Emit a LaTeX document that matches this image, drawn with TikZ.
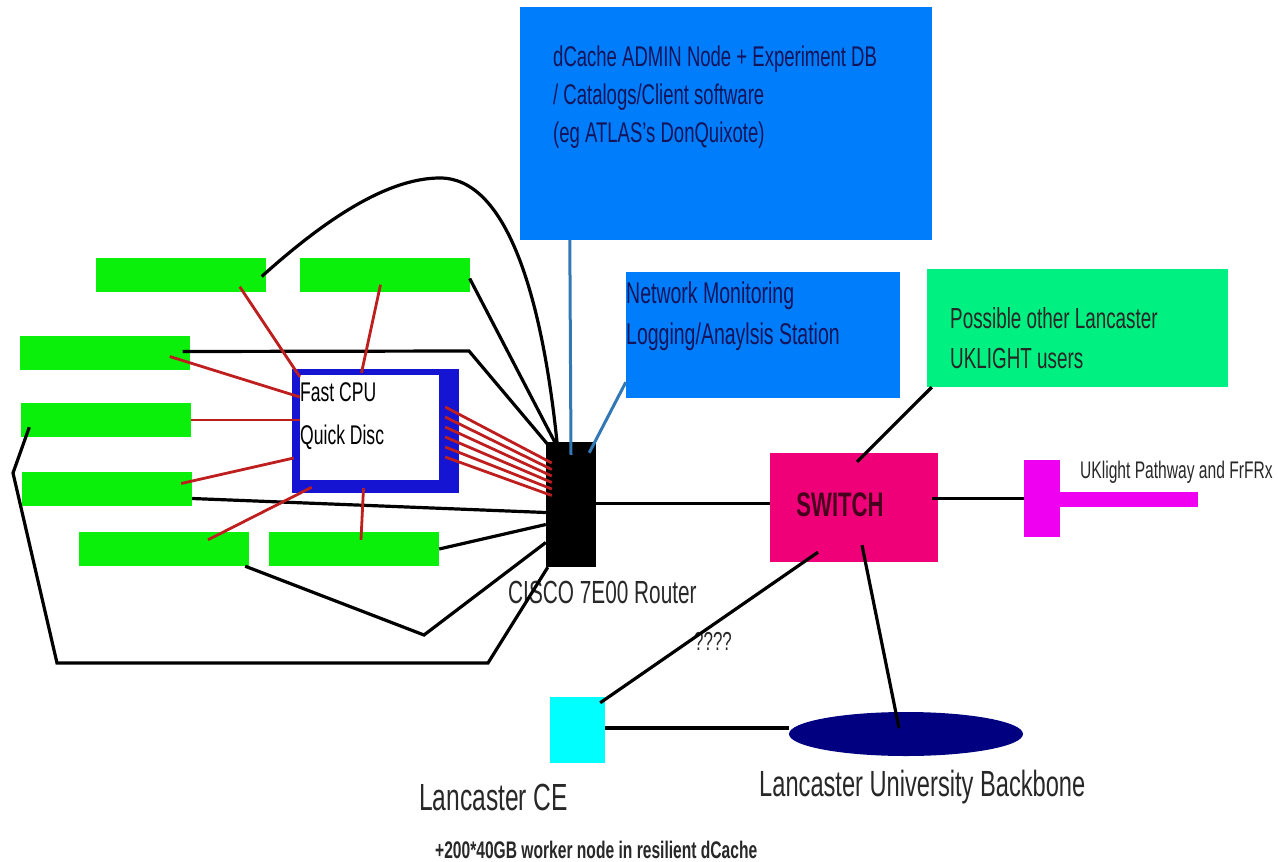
\documentclass[tikz,border=0pt]{standalone}
\usepackage{fontspec}
\setmainfont{Liberation Sans}[FakeStretch=0.65]
\usetikzlibrary{calc,shapes.geometric}

\definecolor{wgreen}{RGB}{10,240,10}
\definecolor{adminblue}{RGB}{0,125,250}
\definecolor{cpublue}{RGB}{20,20,210}
\definecolor{lgreen}{RGB}{0,240,130}
\definecolor{swpink}{RGB}{240,0,120}
\definecolor{tmagenta}{RGB}{240,0,240}
\definecolor{cecyan}{RGB}{0,255,255}
\definecolor{bbnavy}{RGB}{0,0,128}
\definecolor{redline}{RGB}{190,30,30}
\definecolor{blueline}{RGB}{50,120,180}
\definecolor{navytext}{RGB}{20,20,90}
\definecolor{greytext}{RGB}{40,40,40}

\begin{document}
\begin{tikzpicture}[x=1pt,y=-1pt,
  wn/.style={fill=wgreen,minimum width=170pt,minimum height=34pt,inner sep=0pt},
  panel/.style={inner sep=0pt},
  txt/.style={inner sep=0pt,anchor=west,align=left},
  wire/.style={line width=3.2pt,black},
  rline/.style={line width=2.8pt,redline},
  bline/.style={line width=3pt,blueline}
]
\useasboundingbox[fill=white] (0,0) rectangle (1278,862);

% worker nodes
\node[wn] (w1) at (180.5,274.5) {};
\node[wn] (w2) at (384.5,274.5) {};
\node[wn] (w3) at (104.5,352.5) {};
\node[wn] (w4) at (105.5,420) {};
\node[wn] (w5) at (107,488.5) {};
\node[wn] (w6) at (164,549) {};
\node[wn] (w7) at (354,549) {};

% fast cpu box
\node[panel,fill=cpublue,minimum width=167pt,minimum height=124pt] (cpu) at (375.5,431) {};
\fill[white] ($(cpu.north west)+(8,6)$) rectangle ($(cpu.south east)+(-20,-13)$);
\node[txt,font=\fontsize{27}{43}\selectfont] (cpu-txt) at (300,416.5) {Fast CPU\\Quick Disc};

% router
\node[panel,fill=black,minimum width=50pt,minimum height=125pt] (router) at (571,504.5) {};
\node[txt,text=greytext,font=\fontsize{32}{38}\selectfont] (router-txt) at (508,592) {CISCO 7E00 Router};

% servers
\node[panel,fill=adminblue,minimum width=412pt,minimum height=233pt] (admin) at (726,123.5) {};
\node[txt,text=navytext,font=\fontsize{28.5}{38}\selectfont] (admin-txt) at (553,97)
  {dCache ADMIN Node + Experiment DB\\/ Catalogs/Client software\\(eg ATLAS's DonQuixote)};
\node[panel,fill=adminblue,minimum width=274pt,minimum height=126pt] (netmon) at (763,335) {};
\node[txt,text=navytext,font=\fontsize{30}{41}\selectfont] (netmon-txt) at (626,316.5)
  {Network Monitoring\\Logging/Anaylsis Station};
\node[panel,fill=lgreen,minimum width=301pt,minimum height=118pt] (others) at (1077.5,328) {};
\node[txt,text=black!85,font=\fontsize{29}{40}\selectfont] (others-txt) at (950,338)
  {Possible other Lancaster\\UKLIGHT users};

% switch and uklight
\node[panel,fill=swpink,minimum width=168pt,minimum height=109pt] (switch) at (854,507.5) {};
\node[text={rgb,255:red,70;green,0;blue,30},inner sep=0pt,font=\fontsize{34}{40}\selectfont\bfseries] (switch-txt) at (840,505) {SWITCH};
\node[panel,fill=tmagenta,minimum width=36pt,minimum height=77pt] (tbar) at (1042,498.5) {};
\node[panel,fill=tmagenta,minimum width=138pt,minimum height=15pt] (tarm) at (1129,499.5) {};
\node[txt,text=greytext,font=\fontsize{24}{28}\selectfont] (tarm-txt) at (1080,472) {UKlight Pathway and FrFRx};

% lancaster
\node[panel,fill=cecyan,minimum width=55pt,minimum height=66pt] (ce) at (577.5,730) {};
\node[txt,text=greytext,font=\fontsize{37.8}{44}\selectfont] (ce-txt) at (419,797) {Lancaster CE};
\node[ellipse,fill=bbnavy,inner sep=0pt,minimum width=234pt,minimum height=44pt] (bb) at (906,734) {};
\node[txt,text=greytext,font=\fontsize{36.4}{44}\selectfont] (bb-txt) at (759,787) {Lancaster University Backbone};
\node[txt,text=greytext,font=\fontsize{24}{28}\selectfont\bfseries] (note) at (435,850) {+200*40GB worker node in resilient dCache};
\node[text=greytext,inner sep=0pt,font=\fontsize{26}{30}\selectfont] (qq) at (713,641) {????};

% black cabling
\coordinate (v1) at (424,635);
\coordinate (loop-a) at (13,473);
\coordinate (loop-b) at (57,663);
\coordinate (loop-c) at (488,663);
\draw[wire] ($(w1.east)+(-4,2)$) .. controls (330,215) and (390,178) .. (440,178)
  .. controls (505,178) and (542,290) .. ($(router.north west)+(12,8)$);
\draw[wire] ($(w2.east)+(0,4)$) -- ($(router.north west)+(13,8)$);
\draw[wire] ($(w3.east)+(-7,-1)$) -- (469,351) -- ($(router.north west)+(9,11)$);
\draw[wire] ($(w5.east)+(0,10)$) -- ($(router.west)+(0,8)$);
\draw[wire] (w7.east) -- ($(router.west)+(0,20)$);
\draw[wire] ($(w6.south east)+(-4,0)$) -- (v1) -- ($(router.west)+(0,38)$);
\draw[wire] ($(w4.south west)+(9,-10)$) -- (loop-a) -- (loop-b) -- (loop-c) -- ($(router.south west)+(2,0)$);

% red links to the cpu box
\draw[rline] ($(w1.south east)+(-26,-5)$) -- ($(cpu.north west)+(8,8)$);
\draw[rline] ($(w2.south)+(-4,-7)$) -- ($(cpu.north)+(-14,4)$);
\draw[rline] ($(w3.east)+(-20,4)$) -- ($(cpu.west)+(8,-34)$);
\draw[rline] (w4.east) -- ($(cpu.west)+(8,-11)$);
\draw[rline] ($(w5.east)+(-11,-5)$) -- ($(cpu.west)+(2,27)$);
\draw[rline] ($(w6.north)+(44,8)$) -- ($(cpu.south west)+(20,-6)$);
\draw[rline] ($(w7.north)+(7,8)$) -- ($(cpu.south)+(-12,-5)$);
\foreach \i in {0,...,5}
  \draw[rline] ($(cpu.east)+(-14,-24+10*\i)$) -- ($(router.west)+(6,-41.5+6.5*\i)$);

% server links
\draw[bline] ($(admin.south west)+(50,0)$) -- ($(router.north)+(0,13)$);
\draw[bline] ($(netmon.south west)+(0,-16)$) -- ($(router.north east)+(-7,11)$);

% switch links
\draw[wire] ($(router.east)+(0,-1)$) -- ($(switch.west)+(0,-4)$);
\draw[wire] ($(switch.east)+(-6,-9)$) -- (tbar.west);
\draw[wire] ($(others.south west)+(5,0)$) -- ($(switch.north)+(3,9)$);
\draw[wire] ($(switch.south)+(-36,-10)$) -- ($(ce.north east)+(-5,6)$);
\draw[wire] ($(switch.south)+(8,-17)$) -- ($(bb.center)+(-7,-6)$);
\draw[wire] ($(ce.east)+(0,-2)$) -- ($(bb.west)+(0,-6)$);
\end{tikzpicture}
\end{document}
